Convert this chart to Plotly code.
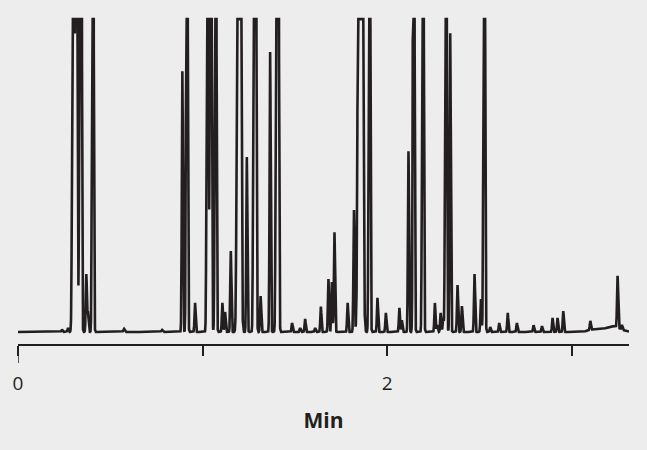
import numpy as np
import plotly.graph_objects as go

# Peak table (time in min, height in % of the clipped full scale,
# sigma in min). Heights above 100 are off-scale peaks (flat-topped in the figure).
peak_time = [0.2385, 0.2710, 0.2997, 0.3160, 0.3388, 0.3702, 0.3794, 0.4054, 0.5745, 0.7800,
             0.8905, 0.9149, 0.9593, 1.0271, 1.0444, 1.0705, 1.1073, 1.1220, 1.1528, 1.1978,
             1.2396, 1.2829, 1.3144, 1.3659, 1.4049, 1.4851, 1.5285, 1.5556, 1.6098, 1.6407,
             1.6818, 1.7003, 1.7144, 1.7859, 1.8201, 1.8553, 1.9041, 1.9474, 1.9930, 2.0661,
             2.0797, 2.1154, 2.1436, 2.1935, 2.2585, 2.2710, 2.2900, 2.3035, 2.3182, 2.3415,
             2.3810, 2.4049, 2.4732, 2.5079, 2.5257, 2.5583, 2.6070, 2.6531, 2.7030, 2.7930,
             2.8385, 2.8959, 2.9230, 2.9539, 3.1003, 3.2482, 3.2721, 3.1200, 3.2200]
peak_height = [0.8, 1.3, 300, 300, 1000, 18.5, 6.1, 300, 1.0, 0.7,
               83.4, 300, 9.3, 300, 300, 300, 9.3, 6.4, 25.9, 1000,
               55.9, 1000, 11.5, 89.5, 1000, 2.9, 1.3, 4.2, 1.3, 8.1,
               16.9, 16.0, 31.9, 9.3, 39.0, 1000, 300, 10.9, 6.1, 7.7,
               3.8, 57.8, 300, 300, 9.3, 2.2, 6.1, 4.5, 300, 95.5,
               15.0, 8.3, 18.5, 10.5, 300, 1.6, 2.9, 6.1, 2.9, 2.2,
               1.9, 4.5, 4.5, 6.7, 2.9, 16.6, 1.5, 0.8, 1.8]
peak_sigma = [0.003, 0.003, 0.00425, 0.00425, 0.0036, 0.0030, 0.0030, 0.0034, 0.004, 0.004,
              0.0030, 0.0034, 0.0030, 0.0037, 0.0037, 0.0034, 0.0030, 0.0030, 0.0030, 0.0060,
              0.0030, 0.0042, 0.0030, 0.0030, 0.0042, 0.0030, 0.0030, 0.0030, 0.0030, 0.0030,
              0.0030, 0.0030, 0.0030, 0.0030, 0.0030, 0.0072, 0.0034, 0.0030, 0.0030, 0.0030,
              0.0030, 0.0030, 0.0034, 0.0034, 0.0030, 0.0030, 0.0030, 0.0030, 0.0034, 0.0030,
              0.0030, 0.0030, 0.0030, 0.0030, 0.0034, 0.0030, 0.0030, 0.0030, 0.0030, 0.0030,
              0.0030, 0.0030, 0.0030, 0.0030, 0.0030, 0.0030, 0.0030, 0.03, 0.04]

t_start, t_end, t_step = 0.0, 3.31, 0.0003
full_scale = 100

tick_vals = [0, 1, 2, 3]
tick_text = ["0", "", "2", ""]
x_title = "Min"

t = np.arange(t_start, t_end + t_step / 2, t_step)
signal = np.zeros_like(t)
for t0, h, s in zip(peak_time, peak_height, peak_sigma):
    signal += h * np.exp(-((t - t0) ** 2) / (2 * s * s))
signal = np.minimum(signal, full_scale)

ink = "#231f20"
bg = "#ededed"

fig = go.Figure()
fig.add_trace(go.Scatter(x=t, y=signal, mode="lines",
                         line=dict(color=ink, width=2.6), hoverinfo="skip"))

fig.update_layout(
    width=647, height=450,
    margin=dict(l=18, r=18, t=10, b=106, autoexpand=False),
    paper_bgcolor=bg, plot_bgcolor=bg,
    showlegend=False,
    font=dict(family="Open Sans, Noto Sans, sans-serif", color=ink),
    xaxis=dict(range=[t_start, t_end], showgrid=False, zeroline=False, automargin=False,
               showline=True, linecolor=ink, linewidth=1.5,
               ticks="outside", ticklen=10, tickwidth=1.5, tickcolor=ink,
               tickvals=tick_vals, ticktext=tick_text,
               tickfont=dict(size=19, color=ink), ticklabelstandoff=11,
               title=dict(text=x_title, font=dict(size=21, color=ink, weight="bold"),
                          standoff=19)),
    yaxis=dict(range=[-3.83, 102.9], visible=False, fixedrange=True, automargin=False),
)
# longer tick mark at the origin
fig.add_shape(type="line", xref="x", yref="paper", x0=0, x1=0, y0=0, y1=-0.057,
              line=dict(color=ink, width=1.5))

fig.write_html("out.html", config={"displayModeBar": False},
               post_script="document.body.style.margin='0';"
                           "document.body.style.background='#ededed';"
                           "document.body.style.overflow='hidden';")
